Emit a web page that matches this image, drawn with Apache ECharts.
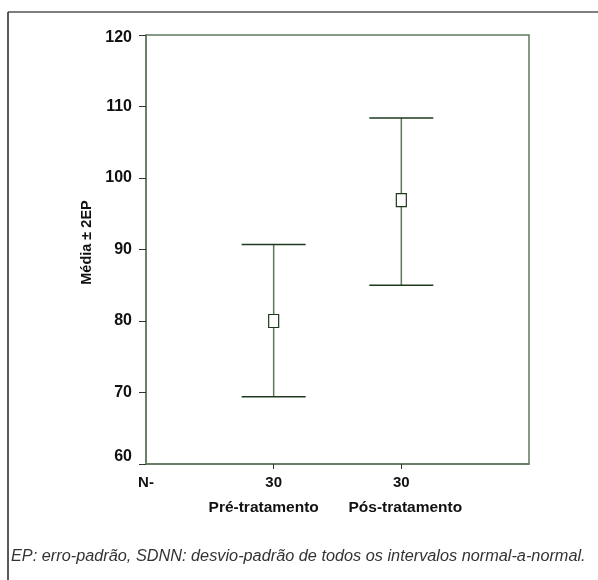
<!DOCTYPE html>
<html>
<head>
<meta charset="utf-8">
<script src="https://cdn.jsdelivr.net/npm/echarts@6/dist/echarts.min.js"></script>
<style>
  html, body { margin: 0; padding: 0; background: #fff; }
  #chart { width: 598px; height: 580px; }
</style>
</head>
<body>
<div id="chart"></div>
<script>
var groups = ['Pré-tratamento', 'Pós-tratamento'];
var counts = ['30', '30'];
var means = [80.0, 96.9];
var upper = [90.7, 108.4];
var lower = [69.4, 85.0];
var yTicks = [60, 70, 80, 90, 100, 110, 120];
var caption = 'EP: erro-padrão, SDNN: desvio-padrão de todos os intervalos normal-a-normal.';

var font = "'Liberation Sans', Arial, sans-serif";
var axisColor = '#5f785f';
var darkColor = '#1e381e';

var data = groups.map(function (g, i) {
    return [i + 1, means[i], lower[i], upper[i]];
});

var e = echarts.init(document.getElementById('chart'));
e.setOption({
    animation: false,
    title: {
        text: caption,
        left: 11,
        top: 548,
        padding: 0,
        textStyle: {
            fontFamily: font,
            fontSize: 16.3,
            fontStyle: 'italic',
            fontWeight: 'normal',
            color: '#333'
        }
    },
    graphic: [
        {type: 'line', shape: {x1: 8, y1: 12, x2: 598, y2: 12}, style: {stroke: '#555', lineWidth: 1.5}},
        {type: 'line', shape: {x1: 8, y1: 12, x2: 8, y2: 580}, style: {stroke: '#222', lineWidth: 1.5}}
    ],
    grid: {
        left: 146, top: 35, right: 69, bottom: 116,
        show: true, borderColor: axisColor, borderWidth: 1.5
    },
    xAxis: {
        type: 'value',
        min: 0, max: 3, interval: 1,
        splitLine: {show: false},
        axisLine: {lineStyle: {color: axisColor, width: 1.5}},
        axisTick: {
            customValues: [1, 2],
            length: 5,
            lineStyle: {color: '#333'}
        },
        axisLabel: {
            customValues: [0, 1, 2],
            margin: 6,
            lineHeight: 25,
            fontFamily: font,
            fontSize: 15,
            fontWeight: 'bold',
            color: '#111',
            formatter: function (v) {
                if (v === 0) return 'N-';
                return '{n|' + counts[v - 1] + '}\n{g' + v + '|' + groups[v - 1] + '}';
            },
            rich: {
                n: {fontSize: 15, fontWeight: 'bold', fontFamily: font, color: '#111', lineHeight: 25},
                g1: {fontSize: 15.5, fontWeight: 'bold', fontFamily: font, color: '#111', lineHeight: 25, padding: [0, 20, 0, 0]},
                g2: {fontSize: 15.5, fontWeight: 'bold', fontFamily: font, color: '#111', lineHeight: 25, padding: [0, 0, 0, 8]}
            }
        }
    },
    yAxis: {
        type: 'value',
        min: yTicks[0], max: yTicks[yTicks.length - 1], interval: 10,
        name: 'Média ± 2EP',
        nameLocation: 'middle',
        nameGap: 52,
        nameTextStyle: {fontFamily: font, fontSize: 14.5, fontWeight: 'bold', color: '#111', padding: [0, 0, 0, 14]},
        splitLine: {show: false},
        axisLine: {lineStyle: {color: axisColor, width: 1.5}},
        axisTick: {length: 7, lineStyle: {color: '#333'}},
        axisLabel: {
            margin: 14,
            fontFamily: font,
            fontSize: 16,
            fontWeight: 'bold',
            color: '#111',
            formatter: function (v) {
                if (v === yTicks[0]) return '{lo|' + v + '}';
                if (v === yTicks[yTicks.length - 1]) return '{hi|' + v + '}';
                return v;
            },
            rich: {
                lo: {fontSize: 16, fontWeight: 'bold', fontFamily: font, color: '#111', padding: [0, 0, 14, 0]},
                hi: {fontSize: 16, fontWeight: 'bold', fontFamily: font, color: '#111', padding: [6, 0, 0, 0]}
            }
        }
    },
    series: [{
        type: 'custom',
        data: data,
        renderItem: function (params, api) {
            var x = api.value(0);
            var mid = api.coord([x, api.value(1)]);
            var lo = api.coord([x, api.value(2)]);
            var hi = api.coord([x, api.value(3)]);
            var half = 32;
            return {
                type: 'group',
                children: [
                    {type: 'line', shape: {x1: hi[0], y1: hi[1], x2: lo[0], y2: lo[1]},
                        style: {stroke: '#5a785a', lineWidth: 1.5}},
                    {type: 'line', shape: {x1: hi[0] - half, y1: hi[1], x2: hi[0] + half, y2: hi[1]},
                        style: {stroke: darkColor, lineWidth: 1.5}},
                    {type: 'line', shape: {x1: lo[0] - half, y1: lo[1], x2: lo[0] + half, y2: lo[1]},
                        style: {stroke: darkColor, lineWidth: 1.5}},
                    {type: 'rect', shape: {x: mid[0] - 5, y: mid[1] - 6.5, width: 10, height: 13},
                        style: {fill: '#fff', stroke: darkColor, lineWidth: 1.2}}
                ]
            };
        }
    }]
});
</script>
</body>
</html>
